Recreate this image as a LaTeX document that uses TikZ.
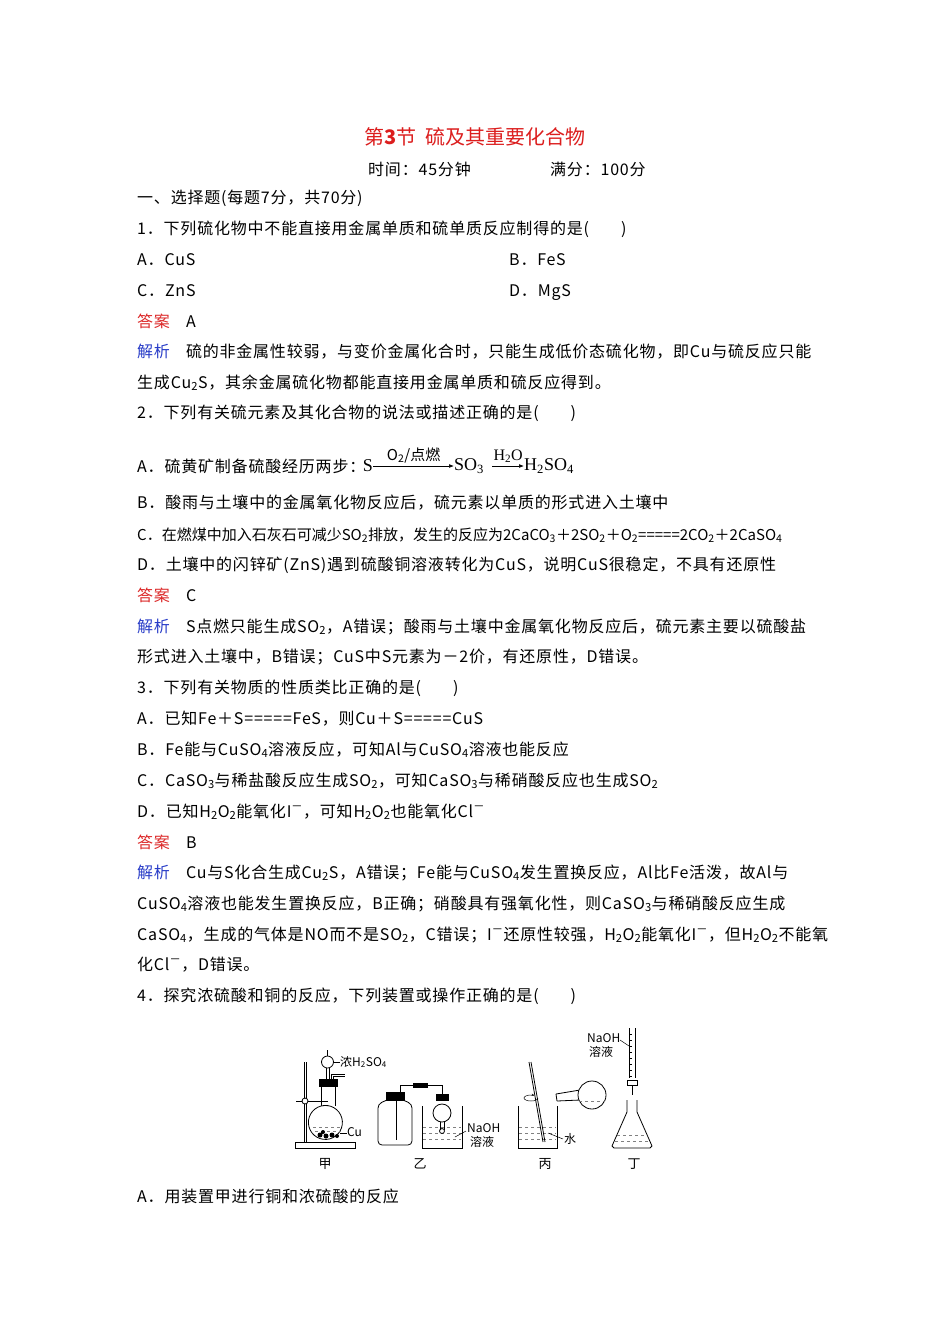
\documentclass[tikz,border=0pt]{standalone}
\usepackage{fontspec}
\setmainfont{Noto Sans CJK SC}
\newfontfamily\serifl{Liberation Serif}
\usetikzlibrary{arrows.meta}
\newcommand\sbs[1]{\textsubscript{#1}}
\newcommand\sps[1]{\textsuperscript{#1}}
\definecolor{ttl}{RGB}{220,30,30}
\definecolor{ans}{RGB}{220,40,40}
\definecolor{jx}{RGB}{40,60,200}
\begin{document}
\begin{tikzpicture}[x=1pt,y=-1pt,
  tx/.style={anchor=base west,inner sep=0pt,yshift=-5pt,font=\fontsize{16}{17}\selectfont\addfontfeature{LetterSpace=5}},
  lab/.style={inner sep=0pt,font=\fontsize{12}{12}\selectfont},
  eq/.style={inner sep=0pt,font=\serifl\fontsize{18}{18}\selectfont},
  gl/.style={line width=0.8pt,black},
  liq/.style={gray,dashed,line width=0.4pt}]
\useasboundingbox[fill=white] (0,0) rectangle (950,1344);
\node[inner sep=0pt,font=\fontsize{20}{20}\selectfont,text=ttl] (title) at (475,137) {第\textbf{3}节\ \ 硫及其重要化合物};
\node[tx] (t1) at (368,170) {时间：45分钟};
\node[tx] (t2) at (550,170) {满分：100分};
\node[tx] (l1) at (137,198) {一、选择题(每题7分，共70分)};
\node[tx] (q1) at (137,229) {1．下列硫化物中不能直接用金属单质和硫单质反应制得的是(\quad\quad)};
\node[tx] (q1a) at (137,260) {A．CuS};
\node[tx] (q1b) at (509,260) {B．FeS};
\node[tx] (q1c) at (137,291) {C．ZnS};
\node[tx] (q1d) at (509,291) {D．MgS};
\node[tx] (a1) at (137,322) {\textcolor{ans}{答案}\quad A};
\node[tx] (j1a) at (137,352) {\textcolor{jx}{解析}\quad 硫的非金属性较弱，与变价金属化合时，只能生成低价态硫化物，即Cu与硫反应只能};
\node[tx] (j1b) at (137,383) {生成Cu\sbs{2}S，其余金属硫化物都能直接用金属单质和硫反应得到。};
\node[tx] (q2) at (137,413) {2．下列有关硫元素及其化合物的说法或描述正确的是(\quad\quad)};
\node[tx] (q2a) at (137,467) {A．硫黄矿制备硫酸经历两步：};
\node[eq] (S) at (368,466) {S};
\node[eq,anchor=west] (SO3) at (454,466) {SO\sbs{3}};
\node[eq,anchor=west] (H2SO4) at (524,466) {H\sbs{2}SO\sbs{4}};
\draw[-{Latex[length=5pt]},line width=0.6pt] (S.east) -- node[above=3pt,inner sep=0pt,font=\fontsize{15}{15}\selectfont]{O\sbs{2}/点燃} (SO3.west);
\draw[-{Latex[length=5pt]},line width=0.6pt] (SO3.east)++(8,0) coordinate (c2) -- node[above=3pt,inner sep=0pt,font=\serifl\fontsize{16}{16}\selectfont]{H\sbs{2}O} (H2SO4.west);
\node[tx] (q2b) at (137,503) {B．酸雨与土壤中的金属氧化物反应后，硫元素以单质的形式进入土壤中};
\node[tx,font=\fontsize{15}{16}\selectfont] (q2c) at (137,535) {C．在燃煤中加入石灰石可减少SO\sbs{2}排放，发生的反应为2CaCO\sbs{3}＋2SO\sbs{2}＋O\sbs{2}=====2CO\sbs{2}＋2CaSO\sbs{4}};
\node[tx] (q2d) at (137,565) {D．土壤中的闪锌矿(ZnS)遇到硫酸铜溶液转化为CuS，说明CuS很稳定，不具有还原性};
\node[tx] (a2) at (137,596) {\textcolor{ans}{答案}\quad C};
\node[tx] (j2a) at (137,627) {\textcolor{jx}{解析}\quad S点燃只能生成SO\sbs{2}，A错误；酸雨与土壤中金属氧化物反应后，硫元素主要以硫酸盐};
\node[tx] (j2b) at (137,657) {形式进入土壤中，B错误；CuS中S元素为－2价，有还原性，D错误。};
\node[tx] (q3) at (137,688) {3．下列有关物质的性质类比正确的是(\quad\quad)};
\node[tx] (q3a) at (137,719) {A．已知Fe＋S=====FeS，则Cu＋S=====CuS};
\node[tx] (q3b) at (137,750) {B．Fe能与CuSO\sbs{4}溶液反应，可知Al与CuSO\sbs{4}溶液也能反应};
\node[tx] (q3c) at (137,781) {C．CaSO\sbs{3}与稀盐酸反应生成SO\sbs{2}，可知CaSO\sbs{3}与稀硝酸反应也生成SO\sbs{2}};
\node[tx] (q3d) at (137,812) {D．已知H\sbs{2}O\sbs{2}能氧化I\sps{－}，可知H\sbs{2}O\sbs{2}也能氧化Cl\sps{－}};
\node[tx] (a3) at (137,843) {\textcolor{ans}{答案}\quad B};
\node[tx] (j3a) at (137,873) {\textcolor{jx}{解析}\quad Cu与S化合生成Cu\sbs{2}S，A错误；Fe能与CuSO\sbs{4}发生置换反应，Al比Fe活泼，故Al与};
\node[tx] (j3b) at (137,904) {CuSO\sbs{4}溶液也能发生置换反应，B正确；硝酸具有强氧化性，则CaSO\sbs{3}与稀硝酸反应生成};
\node[tx] (j3c) at (137,935) {CaSO\sbs{4}，生成的气体是NO而不是SO\sbs{2}，C错误；I\sps{－}还原性较强，H\sbs{2}O\sbs{2}能氧化I\sps{－}，但H\sbs{2}O\sbs{2}不能氧};
\node[tx] (j3d) at (137,965) {化Cl\sps{－}，D错误。};
\node[tx] (q4) at (137,996) {4．探究浓硫酸和铜的反应，下列装置或操作正确的是(\quad\quad)};
\node[tx] (q4a) at (137,1197) {A．用装置甲进行铜和浓硫酸的反应};
% ---- 甲 ----
\draw[gl,fill=white] (295,1142) rectangle (355,1148);
\draw[gl] (304,1142) -- (304,1062) (306,1142) -- (306,1062);
\draw[gl] (296,1101) -- (328,1101);
\draw[gl,fill=white] (305,1101) circle (3);
\draw[gl] (321,1086) -- (321,1106) (335,1086) -- (335,1106);
\draw[gl,fill=white] (321,1106) arc (-105:285:17 and 17);
\draw[liq] (313,1127) -- (343,1127) (315,1131) -- (341,1131);
\fill[black] (320,1135) circle (2.5) (326,1136) circle (2.5) (332,1135) circle (2.5) (337,1136) circle (2) (323,1132) circle (2);
\draw[gl,fill=black] (319,1079) rectangle (337,1086);
\draw[gl] (326,1079) -- (326,1068) (329,1079) -- (329,1068);
\draw[gl,fill=white] (327.5,1062) circle (6);
\draw[gl] (327.5,1056) -- (327.5,1050);
\draw[gl] (331,1079) -- (331,1074) -- (345,1074) (333,1079) -- (333,1076) -- (345,1076);
\draw[line width=0.5pt] (333,1062) -- (340,1062);
\node[lab,anchor=west] (nh) at (340,1062) {浓H\sbs{2}SO\sbs{4}};
\draw[line width=0.5pt] (340,1133) -- (347,1133);
\node[lab,anchor=west] (cu) at (347,1132) {Cu};
\node[lab,font=\fontsize{13}{13}\selectfont] (jia) at (325,1164) {甲};
% ---- 乙 ----
\draw[gl,rounded corners=4pt] (387,1100) -- (378,1104) -- (378,1145) -- (412,1145) -- (412,1104) -- (403,1100);
\draw[gl,fill=black] (386,1092) rectangle (404,1100);
\draw[gl] (396,1092) -- (396,1140);
\draw[gl] (400,1092) -- (400,1085) -- (413,1085) (427,1085) -- (442,1085) -- (442,1094);
\draw[gl,fill=black] (413,1083) rectangle (427,1087);
\draw[gl] (422,1106) -- (422,1148) -- (462,1148) -- (462,1106);
\draw[liq] (423,1127) -- (461,1127) (423,1133) -- (461,1133) (423,1139) -- (461,1139);
\draw[gl,fill=black] (436,1094) rectangle (448,1100);
\draw[gl,fill=white] (442,1113) circle (9);
\draw[gl] (440,1122) -- (440,1130) (444,1122) -- (444,1130);
\draw[gl] (442,1131) circle (2.5);
\draw[line width=0.5pt] (455,1137) -- (466,1131);
\node[lab,anchor=west] (naoh1) at (467,1128) {NaOH};
\node[lab,anchor=west] (ry1) at (470,1142) {溶液};
\node[lab,font=\fontsize{13}{13}\selectfont] (yi) at (420,1164) {乙};
% ---- 丙 ----
\draw[gl] (518,1106) -- (518,1148) -- (557,1148) -- (557,1106);
\draw[liq] (519,1127) -- (556,1127) (519,1133) -- (556,1133) (519,1139) -- (556,1139);
\draw[gl] (529,1062) -- (543,1142) (531,1062) -- (545,1142);
\draw[line width=0.5pt,-{Stealth[length=3pt]}] (538,1098) arc (0:300:7 and 3);
\draw[gl] (556,1094) -- (580,1090) (557,1101) -- (580,1100);
\draw[gl,fill=white] (592,1095) circle (14);
\draw[gl] (556,1094) -- (557,1101);
\draw[liq] (579,1101) -- (605,1101);
\draw[line width=0.5pt] (548,1133) -- (563,1139);
\node[lab,anchor=west] (water) at (564,1139) {水};
\node[lab,font=\fontsize{13}{13}\selectfont] (bing) at (545,1164) {丙};
% ---- 丁 ----
\draw[gl] (629,1028) -- (629,1078) (635,1028) -- (635,1078);
\foreach \yy in {1034,1040,...,1076} {\draw[line width=0.3pt] (629,\yy) -- (632,\yy);}
\draw[gl,fill=white] (627,1080) rectangle (637,1085);
\draw[gl] (632,1085) -- (632,1095);
\draw[gl] (627,1100) -- (627,1112) -- (612,1146) -- (614,1148) -- (650,1148) -- (652,1146) -- (637,1112) -- (637,1100);
\draw[liq] (617,1135) -- (647,1135) (615,1141) -- (649,1141);
\draw[line width=0.5pt] (620,1040) -- (629,1046);
\node[lab,anchor=west] (naoh2) at (587,1038) {NaOH};
\node[lab,anchor=west] (ry2) at (589,1052) {溶液};
\node[lab,font=\fontsize{13}{13}\selectfont] (ding) at (634,1164) {丁};
\end{tikzpicture}
\end{document}
